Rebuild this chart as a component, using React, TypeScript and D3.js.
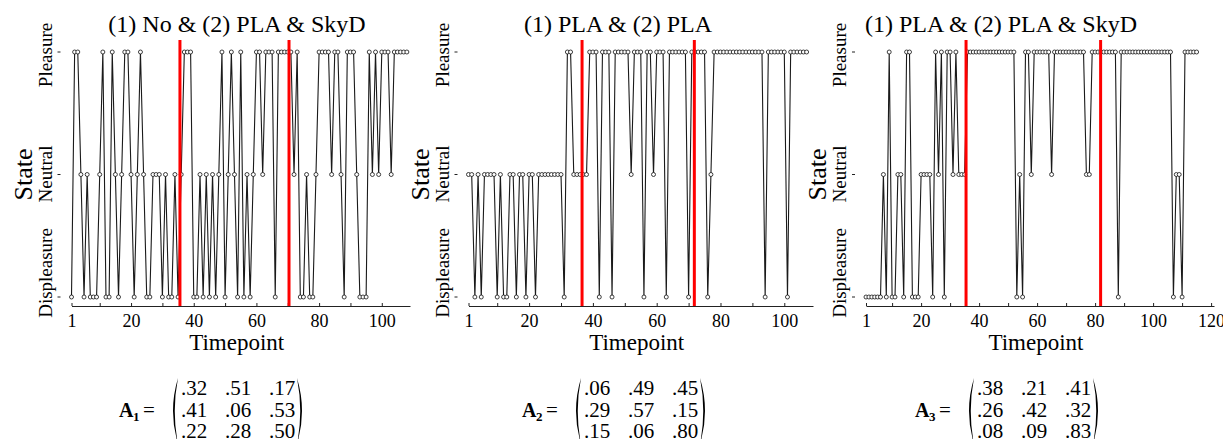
import React, { useRef, useEffect } from "react"
import * as d3 from "d3"

// states: 1 = Displeasure, 2 = Neutral, 3 = Pleasure
const stateLabels = ["Displeasure", "Neutral", "Pleasure"]
const titles = ["(1) No & (2) PLA & SkyD", "(1) PLA & (2) PLA", "(1) PLA & (2) PLA & SkyD"]

const series1 = [
  1, 3, 3, 2, 1, 2, 1, 1, 1, 2,
  3, 1, 1, 3, 2, 1, 2, 3, 3, 2,
  1, 2, 3, 2, 1, 1, 2, 2, 2, 1,
  2, 1, 1, 2, 1, 2, 3, 3, 3, 1,
  1, 2, 1, 2, 1, 2, 1, 2, 3, 1,
  2, 3, 2, 1, 3, 1, 2, 1, 2, 3,
  3, 2, 3, 3, 3, 1, 3, 3, 3, 3,
  3, 2, 3, 1, 1, 2, 1, 1, 2, 3,
  3, 3, 3, 2, 3, 3, 2, 1, 3, 3,
  3, 2, 1, 1, 1, 3, 2, 3, 2, 3,
  3, 3, 2, 3, 3, 3, 3, 3,
]
const series2 = [
  2, 2, 1, 2, 1, 2, 2, 2, 2, 1,
  2, 1, 1, 2, 2, 1, 2, 2, 1, 2,
  2, 1, 2, 2, 2, 2, 2, 2, 2, 2,
  1, 3, 3, 2, 2, 2, 2, 2, 3, 3,
  3, 1, 3, 3, 3, 1, 3, 3, 3, 3,
  3, 2, 3, 3, 3, 1, 3, 3, 2, 3,
  3, 3, 1, 3, 3, 3, 3, 3, 3, 1,
  3, 3, 3, 3, 3, 1, 2, 3, 3, 3,
  3, 3, 3, 3, 3, 3, 3, 3, 3, 3,
  3, 3, 3, 1, 3, 3, 3, 3, 3, 3,
  1, 3, 3, 3, 3, 3, 3,
]
const series3 = [
  1, 1, 1, 1, 1, 1, 2, 1, 3, 1,
  1, 2, 2, 1, 3, 3, 1, 1, 1, 2,
  2, 2, 2, 1, 3, 2, 3, 1, 3, 3,
  2, 3, 2, 2, 2, 3, 3, 3, 3, 3,
  3, 3, 3, 3, 3, 3, 3, 3, 3, 3,
  3, 3, 1, 2, 1, 3, 3, 2, 3, 3,
  3, 3, 3, 3, 2, 3, 3, 3, 3, 3,
  3, 3, 3, 3, 3, 3, 2, 2, 3, 3,
  3, 3, 3, 3, 3, 3, 3, 1, 3, 3,
  3, 3, 3, 3, 3, 3, 3, 3, 3, 3,
  3, 3, 3, 3, 3, 3, 1, 2, 2, 1,
  3, 3, 3, 3, 3,
]

const changes1 = [35.6, 70.4]
const changes2 = [36.6, 71.8]
const changes3 = [35.5, 81.9]

const ticks110 = [1, 10, 20, 30, 40, 50, 60, 70, 80, 90, 100]
const ticks120 = [1, 10, 20, 30, 40, 50, 60, 70, 80, 90, 100, 110, 120]
const labels100 = [1, 20, 40, 60, 80, 100]
const labels120 = [1, 20, 40, 60, 80, 100, 120]

const matrix1 = [[".32", ".51", ".17"], [".41", ".06", ".53"], [".22", ".28", ".50"]]
const matrix2 = [[".06", ".49", ".45"], [".29", ".57", ".15"], [".15", ".06", ".80"]]
const matrix3 = [[".38", ".21", ".41"], [".26", ".42", ".32"], [".08", ".09", ".83"]]

const font = "'Liberation Serif', 'Times New Roman', serif"

const panels = [
  { series: series1, changes: changes1, title: titles[0], matrix: matrix1, sub: "1",
    range: [71.5, 410], domain: [1, 109], ticks: ticks110, labels: labels100, titleX: 237, matX: 119 },
  { series: series2, changes: changes2, title: titles[1], matrix: matrix2, sub: "2",
    range: [468.5, 813], domain: [1, 109], ticks: ticks110, labels: labels100, titleX: 618, matX: 522 },
  { series: series3, changes: changes3, title: titles[2], matrix: matrix3, sub: "3",
    range: [866, 1214], domain: [1, 121], ticks: ticks120, labels: labels120, titleX: 1001, matX: 915 },
]

const App = () => {
  const svgRef = useRef<SVGSVGElement>(null)

  useEffect(() => {
    if (!svgRef.current) return
    const svg = d3.select(svgRef.current)
    svg.selectAll("*").remove()

    const y = d3.scaleLinear().domain([1, 3]).range([297, 52])
    const axisY = 306

    panels.forEach(p => {
      const x = d3.scaleLinear().domain(p.domain).range(p.range)
      const g = svg.append("g")
      const x0 = p.range[0]

      // title
      g.append("text")
        .attr("x", p.titleX)
        .attr("y", 32)
        .attr("text-anchor", "middle")
        .style("font-family", font)
        .style("font-size", "24px")
        .text(p.title)

      // x axis
      const xAxis = d3
        .axisBottom(x)
        .tickValues(p.ticks)
        .tickSizeInner(-3)
        .tickSizeOuter(0)
        .tickPadding(8)
        .tickFormat(d => (p.labels.includes(+d) ? String(d) : ""))
      const ax = g.append("g").attr("transform", "translate(0," + axisY + ")").call(xAxis)
      ax.select(".domain").attr("stroke", "#222")
      ax.selectAll(".tick line").attr("stroke", "#222")
      ax.selectAll(".tick text")
        .attr("fill", "#000")
        .style("font-family", font)
        .style("font-size", "18px")

      g.append("text")
        .attr("x", (p.range[0] + p.range[1]) / 2 - 4)
        .attr("y", 350)
        .attr("text-anchor", "middle")
        .style("font-family", font)
        .style("font-size", "23px")
        .text("Timepoint")

      // y labels
      const ly = [273, 174, 55]
      stateLabels.forEach((s, i) => {
        g.append("text")
          .attr("transform", "translate(" + (x0 - 20) + "," + ly[i] + ") rotate(-90)")
          .attr("text-anchor", "middle")
          .style("font-family", font)
          .style("font-size", "19px")
          .text(s)
      })
      g.append("text")
        .attr("transform", "translate(" + (x0 - 40) + "," + y(2) + ") rotate(-90)")
        .attr("text-anchor", "middle")
        .style("font-family", font)
        .style("font-size", "26px")
        .text("State")

      // y ticks
      g.selectAll(".ytick")
        .data([1, 2, 3])
        .enter()
        .append("line")
        .attr("x1", x0 - 14)
        .attr("x2", x0 - 11)
        .attr("y1", d => y(d))
        .attr("y2", d => y(d))
        .attr("stroke", "#222")

      // series line
      const line = d3
        .line<number>()
        .x((d, i) => x(i + 1))
        .y(d => y(d))
      g.append("path")
        .datum(p.series)
        .attr("d", line)
        .attr("fill", "none")
        .attr("stroke", "#1a1a1a")
        .attr("stroke-width", 1.1)

      g.selectAll(".pt")
        .data(p.series)
        .enter()
        .append("circle")
        .attr("cx", (d, i) => x(i + 1))
        .attr("cy", d => y(d))
        .attr("r", 2)
        .attr("fill", "#fff")
        .attr("stroke", "#111")
        .attr("stroke-width", 0.8)

      // change points
      g.selectAll(".cp")
        .data(p.changes)
        .enter()
        .append("line")
        .attr("x1", d => x(d))
        .attr("x2", d => x(d))
        .attr("y1", 40)
        .attr("y2", axisY)
        .attr("stroke", "#f00")
        .attr("stroke-width", 3)

      // transition matrix
      const m = p.matX
      const mg = g.append("g").style("font-family", font)
      mg.append("text")
        .attr("x", m)
        .attr("y", 416.7)
        .style("font-size", "20px")
        .style("font-weight", "bold")
        .text("A")
      mg.append("text")
        .attr("x", m + 14)
        .attr("y", 420.5)
        .style("font-size", "13px")
        .style("font-weight", "bold")
        .text(p.sub)
      mg.append("text")
        .attr("x", m + 24)
        .attr("y", 416.7)
        .style("font-size", "21px")
        .text("=")
      const pl = m + 51
      const pr = m + 186
      mg.append("path")
        .attr("d", `M${pl + 8},378 Q${pl - 2},411 ${pl + 8},444 Q${pl + 1.5},411 ${pl + 8},378 Z`)
        .attr("fill", "#000")
      mg.append("path")
        .attr("d", `M${pr - 8},378 Q${pr + 2},411 ${pr - 8},444 Q${pr - 1.5},411 ${pr - 8},378 Z`)
        .attr("fill", "#000")
      const colX = [m + 75, m + 119, m + 163]
      const rowY = [395, 416.7, 438]
      p.matrix.forEach((row, r) => {
        row.forEach((v, c) => {
          mg.append("text")
            .attr("x", colX[c])
            .attr("y", rowY[r])
            .attr("text-anchor", "middle")
            .style("font-size", "21px")
            .text(v)
        })
      })
    })
  }, [])

  return (
    <svg
      ref={svgRef}
      width={1223}
      height={439}
      style={{ position: "absolute", left: 0, top: 0, background: "#fff" }}
    />
  )
}

export default App
